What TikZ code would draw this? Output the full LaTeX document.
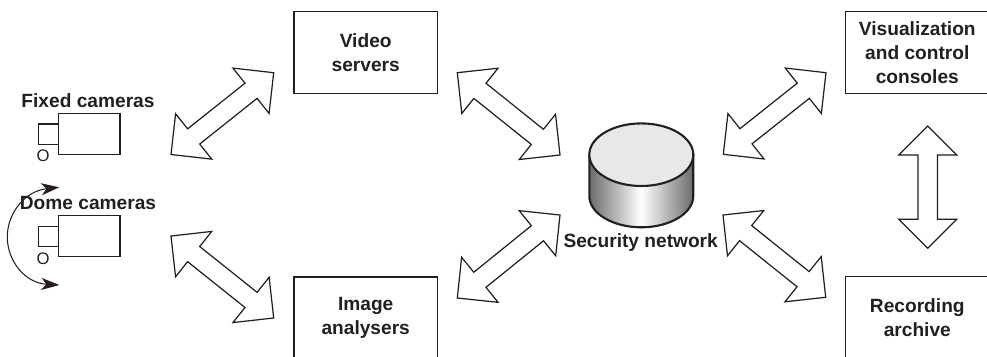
\documentclass[tikz,border=0pt]{standalone}
\usepackage{fontspec}
\setmainfont{Liberation Sans}
\usepackage{tikz}
\usetikzlibrary{calc,arrows.meta}
\definecolor{inkgrey}{HTML}{231F20}
\tikzset{
	box/.style={draw=inkgrey, line width=0.75pt, minimum width=2.866cm, minimum height=1.632cm, inner sep=0pt, align=center, text=inkgrey, font=\fontsize{10.9}{13.6}\selectfont\bfseries},
	tag/.style={inner sep=0pt, text=inkgrey, font=\fontsize{10.9}{13.6}\selectfont\bfseries},
	flowarrow/.style={draw=inkgrey, line width=0.7pt, line join=miter, fill=white},
	camera/.style={draw=inkgrey, line width=0.7pt},
}
\def\blockarrow(#1)(#2){\draw[flowarrow] (#1)
	-- ($(#1)!0.58cm!(#2)!0.58cm!90:(#2)$) -- ($(#1)!0.58cm!(#2)!0.194cm!90:(#2)$)
	-- ($(#2)!0.58cm!(#1)!0.194cm!-90:(#1)$) -- ($(#2)!0.58cm!(#1)!0.58cm!-90:(#1)$)
	-- (#2)
	-- ($(#2)!0.58cm!(#1)!0.58cm!90:(#1)$) -- ($(#2)!0.58cm!(#1)!0.194cm!90:(#1)$)
	-- ($(#1)!0.58cm!(#2)!0.194cm!-90:(#2)$) -- ($(#1)!0.58cm!(#2)!0.58cm!-90:(#2)$)
	-- cycle;}

\begin{document}
\begin{tikzpicture}[x=0.02cm, y=-0.02cm]
	%%%%% START %%%%%
	\useasboundingbox (0, 0) rectangle (987, 356);
	\clip (0, 0) rectangle (987, 356);

	\node[box] (video) at (365.7, 52.5) {Video\\servers};
	\node[box] (image) at (365.7, 317.8) {Image\\analysers};
	\node[box] (console) at (917.3, 52.5) {Visualization\\and control\\consoles};
	\node[box] (archive) at (917.3, 317.6) {Recording\\archive};

	\node[tag] (fixed) at (88, 101) {Fixed cameras};
	\node[tag] (dome) at (88, 203) {Dome cameras};
	\node[tag] (network) at (640.7, 243) {Security network};

	\draw[camera] (58.3, 113.3) rectangle (120, 154.3);
	\draw[camera] (38.3, 124) rectangle (58.3, 144.3);
	\node[inner sep=0pt, text=inkgrey, font=\fontsize{9.5}{11}\selectfont] (fixedO) at (43, 156) {O};

	\draw[camera] (58.3, 215.6) rectangle (120, 256.6);
	\draw[camera] (38.3, 226.3) rectangle (58.3, 246.6);
	\node[inner sep=0pt, text=inkgrey, font=\fontsize{9.5}{11}\selectfont] (domeO) at (43, 258.5) {O};

	\draw[draw=inkgrey, line width=0.6pt, {Stealth[length=0.36cm, width=0.24cm, inset=0.1cm]}-{Stealth[length=0.36cm, width=0.24cm, inset=0.1cm]}]
		(59.3, 187.3) .. controls (25, 191) and (7.3, 213) .. (7.3, 237)
		.. controls (7.3, 261) and (25, 283) .. (59.3, 285);

	% database
	\draw[inkgrey, line width=1.2pt, left color=black!58, right color=black!58, middle color=white]
		(589.3, 155) -- (589.3, 196) arc (180:360:1.04cm and 0.626cm) -- (693.3, 155) -- cycle;
	\draw[inkgrey, line width=1.2pt, fill=black!9] (641.3, 154.7) ellipse (1.04cm and 0.626cm);

	\coordinate (fixedend) at (171, 154.5);
	\coordinate (videowest) at (273.7, 72.7);
	\coordinate (videoeast) at (457.3, 72.7);
	\coordinate (netnw) at (560, 155);
	\coordinate (domeend) at (171, 236);
	\coordinate (imagewest) at (273.7, 318);
	\coordinate (imageeast) at (457.3, 298);
	\coordinate (netsw) at (560, 215);
	\coordinate (netne) at (723.3, 154.3);
	\coordinate (consolewest) at (826, 72.7);
	\coordinate (netse) at (723, 215);
	\coordinate (archivewest) at (825.7, 297.3);
	\coordinate (consolesouth) at (927.7, 126);
	\coordinate (archivenorth) at (927.7, 248.3);

	\blockarrow(fixedend)(videowest);
	\blockarrow(videoeast)(netnw);
	\blockarrow(domeend)(imagewest);
	\blockarrow(imageeast)(netsw);
	\blockarrow(netne)(consolewest);
	\blockarrow(netse)(archivewest);
	\blockarrow(consolesouth)(archivenorth);
	%%%%% END %%%%%
\end{tikzpicture}
\end{document}
